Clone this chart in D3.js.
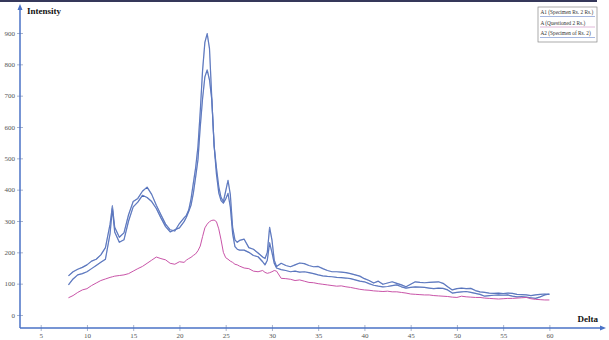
<!DOCTYPE html>
<html>
<head>
<meta charset="utf-8">
<script src="https://cdn.jsdelivr.net/npm/d3@7"></script>
<style>
  body { margin: 0; background: #fff; }
  svg { display: block; font-family: "Liberation Serif", "DejaVu Serif", serif; }
</style>
</head>
<body>
<div id="chart"></div>
<script>
// delta values (x), shared by the three series
var delta = [8,8.5,9,9.5,10,10.5,11,11.5,12,12.5,12.75,13,13.5,14,14.5,15,15.5,16,16.5,17,17.5,18,18.5,19,19.5,20,20.5,
  20.75,21,21.25,21.5,21.75,22,22.25,22.5,22.75,23,23.25,23.5,23.75,24,24.25,24.5,24.75,25,25.25,25.5,25.75,26,26.25,26.5,
  27,27.5,28,28.5,29,
  29.25,29.5,29.75,30,30.25,30.5,
  31,31.5,32,32.5,33,33.5,34,34.5,35,35.5,36,36.5,37,37.5,38,38.5,39,39.5,40,40.5,41,41.5,42,42.5,43,43.5,44,44.5,
  45,45.5,46,46.5,47,47.5,48,48.5,49,49.5,50,50.5,51,51.5,52,52.5,53,53.5,54,54.5,55,55.5,56,56.5,57,57.5,58,58.5,59,59.5,60];

// A1 (Specimen Rs. 2 Rs.)
var a1 = [125,138,146,152,160,172,178,192,215,290,348,280,248,262,320,362,372,395,408,385,350,320,290,272,268,292,310,
  318,335,370,420,470,537,650,780,870,898,850,690,540,470,410,375,362,395,430,385,280,240,232,238,
  242,215,210,198,185,
  180,200,280,240,175,155,
  165,158,154,160,166,164,158,154,155,148,142,138,138,137,135,132,128,124,116,110,102,108,98,102,106,101,96,90,
  98,106,104,103,104,105,106,101,90,80,84,86,84,85,78,74,72,70,69,70,68,70,69,66,65,64,62,64,66,67,66];

// A (Questioned 2 Rs.)
var aq = [55,62,72,80,84,94,102,110,115,120,122,124,126,128,132,140,148,155,165,175,185,180,176,165,162,170,168,
  175,180,184,190,195,205,220,250,278,290,298,302,303,298,275,240,200,183,178,172,168,162,160,156,
  150,148,140,138,142,
  136,133,135,138,142,140,
  117,116,114,110,112,108,104,103,100,98,96,94,92,93,90,88,85,82,80,79,77,76,75,76,74,74,72,70,
  67,66,65,64,64,62,61,60,59,57,56,60,58,57,56,56,54,53,52,51,52,53,53,54,55,56,52,50,49,48,48];

// A2 (Specimen of Rs. 2)
var a2 = [96,115,128,132,138,148,158,168,178,260,340,265,232,240,300,345,360,382,375,362,340,310,282,265,272,278,298,
  312,330,350,388,440,495,600,690,760,782,750,686,540,450,390,365,357,370,388,345,260,218,210,207,
  207,200,190,186,170,
  160,175,230,200,165,150,
  145,142,138,140,137,138,135,132,128,125,123,122,120,119,118,116,112,108,106,100,95,92,90,91,94,96,90,86,
  88,90,89,88,86,84,86,85,80,70,72,74,75,72,69,66,60,62,63,64,63,64,60,58,59,57,55,53,58,64,67];

var xTicks = [5,10,15,20,25,30,35,40,45,50,55,60];
var yTicks = [0,100,200,300,400,500,600,700,800,900];
var seriesNames = ["A1 (Specimen Rs. 2 Rs.)", "A (Questioned 2 Rs.)", "A2 (Specimen of Rs. 2)"];
var seriesColors = ["#4262b4", "#c954a8", "#4262b4"];

var width = 609, height = 340;
var axisColor = "#4a72c6";

var svg = d3.select("#chart").append("svg")
  .attr("width", width)
  .attr("height", height);

// thin dark strip at the top
svg.append("rect")
  .attr("x", 0).attr("y", 0)
  .attr("width", 597).attr("height", 2)
  .attr("fill", "#35385a");

// scales
var x = d3.scaleLinear().domain([5, 60]).range([40.7, 549.4]);
var y = d3.scaleLinear().domain([0, 900]).range([315, 33]);

var axisX0 = 20, axisY0 = 328;

// y axis ticks + labels
var yAxis = svg.append("g")
  .attr("transform", "translate(" + axisX0 + ",0)")
  .call(d3.axisLeft(y).tickValues(yTicks).tickSize(3).tickFormat(d3.format("d")));
yAxis.attr("font-family", null);
yAxis.select(".domain").remove();
yAxis.selectAll(".tick line").attr("stroke", "#a9b4cc").attr("x2", 3).attr("x1", -3);
yAxis.selectAll(".tick text").attr("fill", "#555").attr("font-size", 7).attr("x", -5);

// x axis ticks + labels
var xAxis = svg.append("g")
  .attr("transform", "translate(0," + axisY0 + ")")
  .call(d3.axisBottom(x).tickValues(xTicks).tickSize(3).tickFormat(d3.format("d")));
xAxis.attr("font-family", null);
xAxis.select(".domain").remove();
xAxis.selectAll(".tick line").attr("stroke", "#a9b4cc").attr("y1", -3).attr("y2", 3);
xAxis.selectAll(".tick text").attr("fill", "#555").attr("font-size", 7).attr("y", 5);

// axis lines with arrows
svg.append("line")
  .attr("x1", axisX0).attr("y1", axisY0)
  .attr("x2", axisX0).attr("y2", 8)
  .attr("stroke", axisColor).attr("stroke-width", 1.5);
svg.append("path")
  .attr("d", "M" + axisX0 + ",4 L" + (axisX0 - 2.5) + ",10 L" + (axisX0 + 2.5) + ",10 Z")
  .attr("fill", axisColor);
svg.append("line")
  .attr("x1", axisX0).attr("y1", axisY0)
  .attr("x2", 602).attr("y2", axisY0)
  .attr("stroke", axisColor).attr("stroke-width", 1.5);
svg.append("path")
  .attr("d", "M606," + axisY0 + " L600," + (axisY0 - 2.5) + " L600," + (axisY0 + 2.5) + " Z")
  .attr("fill", axisColor);

// axis titles
svg.append("text")
  .attr("x", 27).attr("y", 14)
  .attr("font-size", 9).attr("font-weight", "bold").attr("fill", "#111")
  .text("Intensity");
svg.append("text")
  .attr("x", 598).attr("y", 322)
  .attr("text-anchor", "end")
  .attr("font-size", 9).attr("font-weight", "bold").attr("fill", "#111")
  .text("Delta");

// lines
var line = d3.line()
  .x(function (d, i) { return x(delta[i]); })
  .y(function (d) { return y(d); });

var allSeries = [a1, aq, a2];
[a2, a1, aq].forEach(function (s) {
  var idx = allSeries.indexOf(s);
  svg.append("path")
    .datum(s)
    .attr("fill", "none")
    .attr("stroke", seriesColors[idx])
    .attr("stroke-width", idx == 1 ? 1 : 1.2)
    .attr("stroke-linejoin", "round")
    .attr("d", line);
  // light centre on the blue traces, like the original rendering
  if (idx != 1) {
    svg.append("path")
      .datum(s)
      .attr("fill", "none")
      .attr("stroke", "#dfe6f5")
      .attr("stroke-opacity", 0.5)
      .attr("stroke-width", 0.4)
      .attr("stroke-linejoin", "round")
      .attr("d", line);
  }
});

// legend
var legend = svg.append("g").attr("transform", "translate(538,7)");
legend.append("rect")
  .attr("width", 59).attr("height", 35)
  .attr("fill", "#fff").attr("stroke", "#888").attr("stroke-width", 0.7);
seriesNames.forEach(function (name, i) {
  legend.append("text")
    .attr("x", 2.5).attr("y", 7 + i * 10.5)
    .attr("font-size", 5.3).attr("fill", "#333")
    .text(name);
  legend.append("line")
    .attr("x1", 2).attr("x2", 57)
    .attr("y1", 9.5 + i * 10.5).attr("y2", 9.5 + i * 10.5)
    .attr("stroke", i == 1 ? "#d9a6cf" : "#8fa5d8").attr("stroke-width", 0.8);
});
</script>
</body>
</html>
